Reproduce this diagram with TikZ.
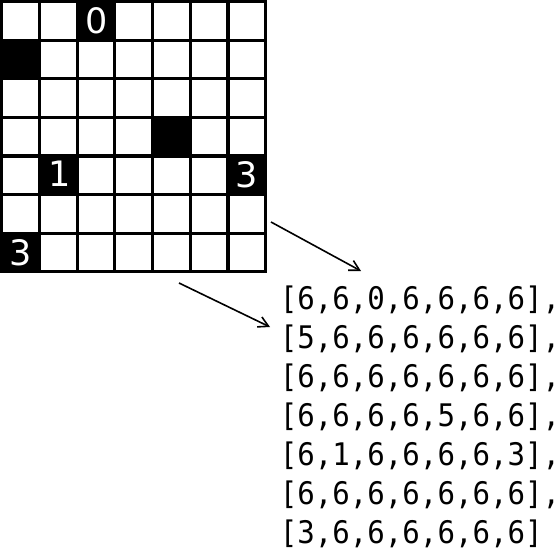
\documentclass[tikz,border=0pt]{standalone}
\usepackage{fontspec}
\usetikzlibrary{arrows.meta}
\newfontfamily\monofont[FakeStretch=0.936]{DejaVu Sans Mono}
\newfontfamily\cellfont{DejaVu Sans}
\begin{document}
\begin{tikzpicture}[x=1pt,y=-1pt,
  gridline/.style={line width=3.2pt,black},
  blackcell/.style={fill=black},
  celldigit/.style={text=white,inner sep=0pt,anchor=base,font=\cellfont\fontsize{35}{35}\selectfont},
  rowtext/.style={inner sep=0pt,anchor=base west,font=\monofont\fontsize{31.1}{38.9}\selectfont},
  arr/.style={line width=1.6pt,-{Straight Barb[length=10pt,width=11pt,line width=1.6pt]}}]
\useasboundingbox (0,0) rectangle (560,551);
\fill[white] (0,0) rectangle (560,551);
\def\cw{37.71}\def\ch{38.57}\def\ox{1.7}\def\oy{1.7}
% black cells: (row,col)
\foreach \r/\c in {0/2,1/0,3/4,4/1,4/6,6/0}{
  \fill[blackcell] ({\ox+\c*\cw},{\oy+\r*\ch}) rectangle ({\ox+(\c+1)*\cw},{\oy+(\r+1)*\ch});
}
\foreach \i in {0,...,7}{
  \draw[gridline] ({\ox+\i*\cw},{\oy-1.6}) -- ({\ox+\i*\cw},{\oy+7*\ch+1.6});
  \draw[gridline] ({\ox-1.6},{\oy+\i*\ch}) -- ({\ox+7*\cw+1.6},{\oy+\i*\ch});
}
\node[celldigit] (d0) at (96.3,33.3) {0};
\node[celldigit] (d1) at (60,186.7) {1};
\node[celldigit] (d3a) at (246.8,187) {3};
\node[celldigit] (d3b) at (20.8,265) {3};
% rows of the array
\node[rowtext] (l1) at (279.6,309.8) {[6,6,0,6,6,6,6],};
\node[rowtext] (l2) at (279.6,348.7) {[5,6,6,6,6,6,6],};
\node[rowtext] (l3) at (279.6,387.6) {[6,6,6,6,6,6,6],};
\node[rowtext] (l4) at (279.6,426.5) {[6,6,6,6,5,6,6],};
\node[rowtext] (l5) at (279.6,465.4) {[6,1,6,6,6,6,3],};
\node[rowtext] (l6) at (279.6,504.3) {[6,6,6,6,6,6,6],};
\node[rowtext] (l7) at (279.6,543.2) {[3,6,6,6,6,6,6]};
% arrows
\coordinate (a1s) at (271,222);
\coordinate (a1e) at (361,271);
\coordinate (a2s) at (179,283);
\coordinate (a2e) at (270,327);
\draw[arr] (a1s) -- (a1e);
\draw[arr] (a2s) -- (a2e);
\end{tikzpicture}
\end{document}
